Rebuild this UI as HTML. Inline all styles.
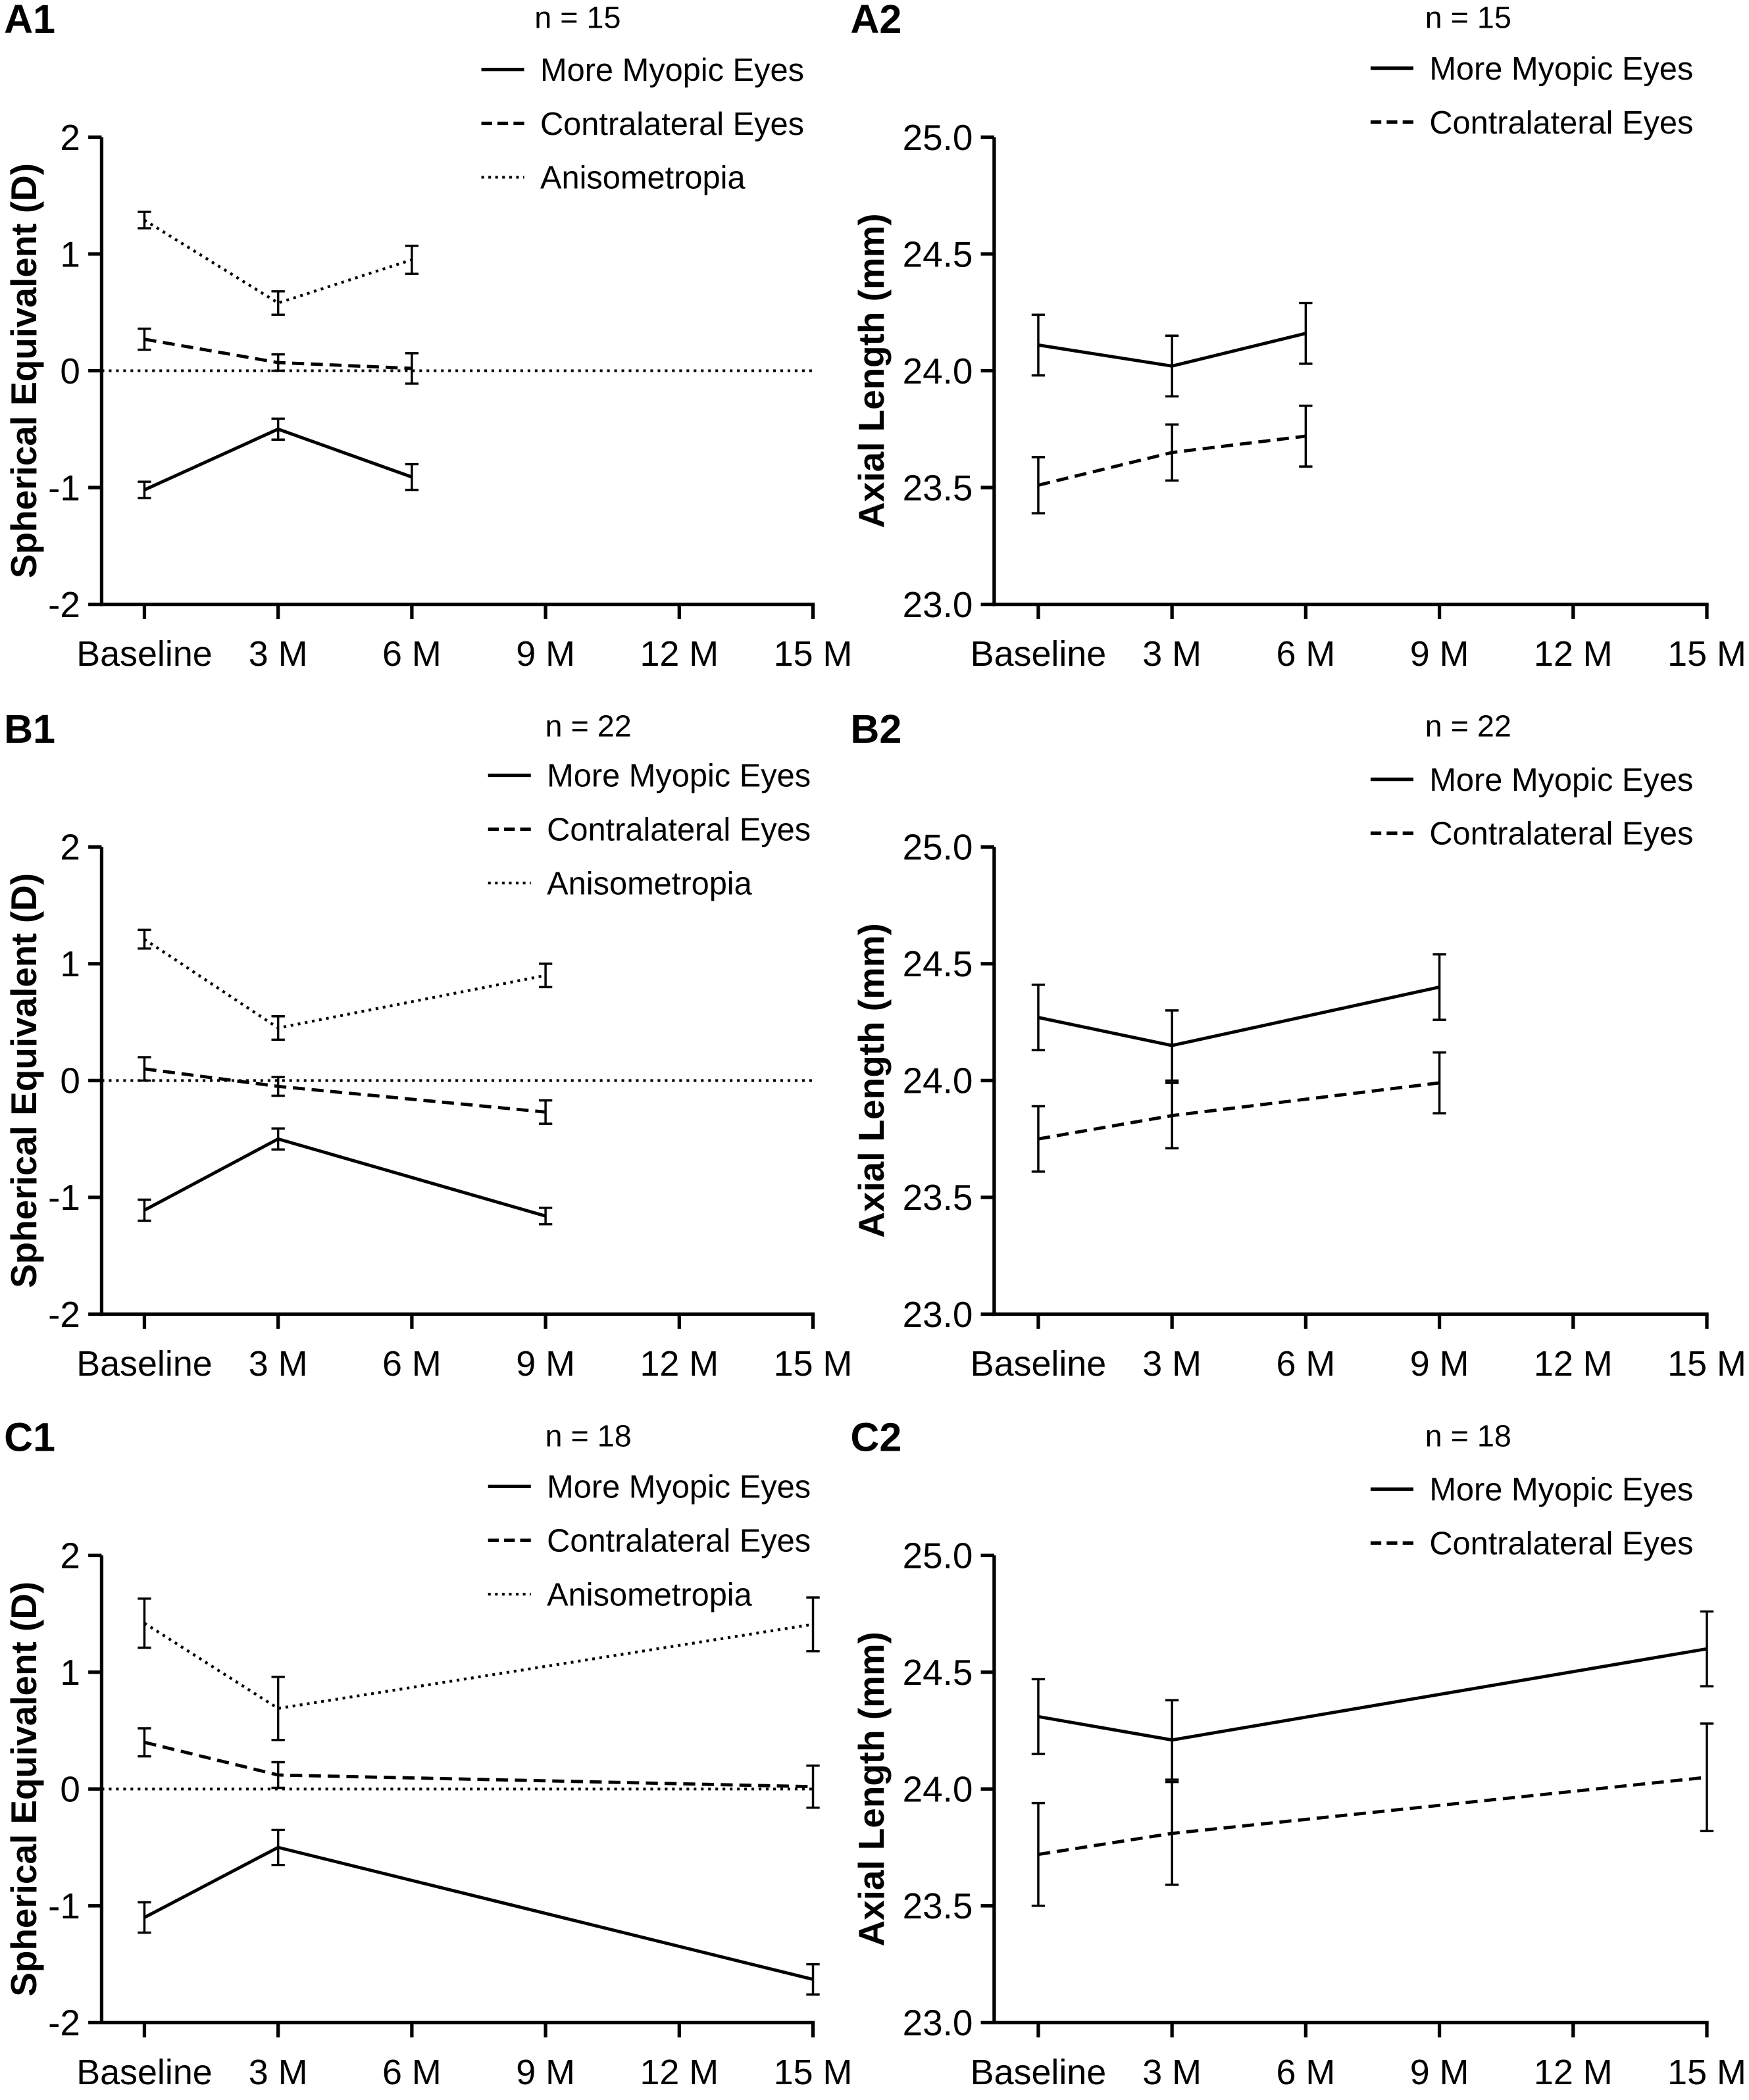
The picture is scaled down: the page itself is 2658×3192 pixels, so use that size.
<!DOCTYPE html>
<html><head><meta charset="utf-8">
<style>
html,body{margin:0;padding:0;background:#fff;}
svg{display:block;}
text{font-family:"Liberation Sans",Arial,sans-serif;fill:#000;}
</style></head>
<body>
<svg id="fig" xmlns="http://www.w3.org/2000/svg" width="2658" height="3192" viewBox="0 0 1308 1571" preserveAspectRatio="none">
<rect width="1308" height="1571" fill="#fff"/>
</svg>
<script>
// ---- data ----
const xTickLabels = ["Baseline","3 M","6 M","9 M","12 M","15 M"];
const seTicks = [2,1,0,-1,-2];
const alTicks = [25.0,24.5,24.0,23.5,23.0];

const a1Months = [0,3,6];
const a1Myopic = [-1.02,-0.50,-0.91]; const a1MyopicErr = [0.07,0.09,0.11];
const a1Contra = [0.27,0.07,0.02];    const a1ContraErr = [0.09,0.07,0.13];
const a1Aniso  = [1.29,0.58,0.95];    const a1AnisoErr  = [0.07,0.10,0.12];
const a2Myopic = [24.11,24.02,24.16]; const a2MyopicErr = [0.13,0.13,0.13];
const a2Contra = [23.51,23.65,23.72]; const a2ContraErr = [0.12,0.12,0.13];

const b1Months = [0,3,9];
const b1Myopic = [-1.11,-0.50,-1.16]; const b1MyopicErr = [0.09,0.09,0.07];
const b1Contra = [0.10,-0.05,-0.27];  const b1ContraErr = [0.10,0.08,0.10];
const b1Aniso  = [1.21,0.45,0.90];    const b1AnisoErr  = [0.08,0.10,0.10];
const b2Myopic = [24.27,24.15,24.40]; const b2MyopicErr = [0.14,0.15,0.14];
const b2Contra = [23.75,23.85,23.99]; const b2ContraErr = [0.14,0.14,0.13];

const c1Months = [0,3,15];
const c1Myopic = [-1.10,-0.50,-1.63]; const c1MyopicErr = [0.13,0.15,0.13];
const c1Contra = [0.40,0.12,0.02];    const c1ContraErr = [0.12,0.11,0.18];
const c1Aniso  = [1.42,0.69,1.41];    const c1AnisoErr  = [0.21,0.27,0.23];
const c2Myopic = [24.31,24.21,24.60]; const c2MyopicErr = [0.16,0.17,0.16];
const c2Contra = [23.72,23.81,24.05]; const c2ContraErr = [0.22,0.22,0.23];

const svg = document.getElementById('fig');
const NS = 'http://www.w3.org/2000/svg';
function mk(tag, attrs, parent){
  const e = document.createElementNS(NS, tag);
  for (const k in attrs) e.setAttribute(k, attrs[k]);
  (parent||svg).appendChild(e); return e;
}
function txt(s, attrs, parent){ const t = mk('text', attrs, parent); t.textContent = s; return t; }

const DASH = {solid:null, dashed:'9,5', dotted:'2,3.4'};

function panel(cfg){
  const g = mk('g', {});
  
  
  const x0 = cfg.axisX, bx = cfg.baseX, top = cfg.top, bot = cfg.top + 349.5;
  const xs = m => bx + m * (100/3);
  const ys = v => bot - (v - cfg.ymin) / (cfg.ymax - cfg.ymin) * (bot - top);
  const pl = txt(cfg.label, {x: cfg.labelX, y: top - 78, 'font-size': 30, 'font-weight': 'bold'}, g);
  
  
  const ya = mk('line', {x1:x0, y1:top, x2:x0, y2:bot+1.3, stroke:'#000','stroke-width':2.6}, g);
  
  
  const xa = mk('line', {x1:x0-1.3, y1:bot, x2:xs(15)+1.3, y2:bot, stroke:'#000','stroke-width':2.6}, g);
  
  
  cfg.ticks.forEach(v => {
    mk('line', {x1:x0-10, y1:ys(v), x2:x0, y2:ys(v), stroke:'#000','stroke-width':2.6}, g);
    const t = txt(cfg.fmt(v), {x:x0-16, y:ys(v)+9.5, 'font-size':27, 'text-anchor':'end'}, g);
    
    
  });
  xTickLabels.forEach((lab, i) => {
    const x = xs(i*3);
    mk('line', {x1:x, y1:bot, x2:x, y2:bot+11, stroke:'#000','stroke-width':2.6}, g);
    const t = txt(lab, {x:x, y:bot+46, 'font-size':26.5, 'text-anchor':'middle'}, g);
    
    
  });
  const cy = (top+bot)/2;
  const yt = txt(cfg.ytitle, {x:cfg.titleX, y:cy, 'font-size':27, 'font-weight':'bold', 'text-anchor':'middle', transform:`rotate(-90 ${cfg.titleX} ${cy})`}, g);
  
  
  if (cfg.zero){
    const z = mk('line', {x1:x0, y1:ys(0), x2:xs(15), y2:ys(0), stroke:'#000','stroke-width':2,'stroke-dasharray':DASH.dotted}, g);
    
    
  }
  cfg.series.forEach(s => {
    const sg = mk('g', {}, g);
    
    
    const pts = cfg.months.map((m,i) => xs(m)+','+ys(s.vals[i])).join(' ');
    const a = {points:pts, fill:'none', stroke:'#000', 'stroke-width': s.style==='dotted'?2.1:2.4};
    if (DASH[s.style]) a['stroke-dasharray'] = DASH[s.style];
    mk('polyline', a, sg);
    cfg.months.forEach((m,i) => {
      const x = xs(m), hi = ys(s.vals[i]+s.err[i]), lo = ys(s.vals[i]-s.err[i]);
      const eb = mk('path', {d:`M${x-5},${hi}H${x+5}M${x},${hi}V${lo}M${x-5},${lo}H${x+5}`, stroke:'#000','stroke-width':1.7, fill:'none'}, sg);
      
      
    });
  });
  const lg = mk('g', {}, g);
  
  
  txt(cfg.n, {x:cfg.nX, y:cfg.nY, 'font-size':23, 'text-anchor':'middle'}, lg);
  cfg.series.forEach((s,i) => {
    const y = cfg.legTop + 10 + i*40.3;
    const e = mk('g', {}, lg);
    
    
    const a = {x1:cfg.legX, y1:y, x2:cfg.legX+32, y2:y, stroke:'#000','stroke-width': s.style==='dotted'?2:2.6};
    if (DASH[s.style]) a['stroke-dasharray'] = s.style==='dashed' ? '8,4' : '2,3.2';
    mk('line', a, e);
    txt(s.label, {x:cfg.legX+44, y:y+8.5, 'font-size':24}, e);
  });
}

const SE = 'Spherical Equivalent (D)', AL = 'Axial Length (mm)';
const fSE = v => String(v), fAL = v => v.toFixed(1);
const rows = [
  {L:'A', top:102.6, n:'n = 15', nY:21, m:a1Months, my:a1Myopic, mye:a1MyopicErr, co:a1Contra, coe:a1ContraErr, an:a1Aniso, ane:a1AnisoErr,
   my2:a2Myopic, mye2:a2MyopicErr, co2:a2Contra, coe2:a2ContraErr, legX1:360, nX1:432, legTop:42, legTop2:41},
  {L:'B', top:633.6, n:'n = 22', nY:551, m:b1Months, my:b1Myopic, mye:b1MyopicErr, co:b1Contra, coe:b1ContraErr, an:b1Aniso, ane:b1AnisoErr,
   my2:b2Myopic, mye2:b2MyopicErr, co2:b2Contra, coe2:b2ContraErr, legX1:365, nX1:440, legTop:570, legTop2:573},
  {L:'C', top:1163.6, n:'n = 18', nY:1082, m:c1Months, my:c1Myopic, mye:c1MyopicErr, co:c1Contra, coe:c1ContraErr, an:c1Aniso, ane:c1AnisoErr,
   my2:c2Myopic, mye2:c2MyopicErr, co2:c2Contra, coe2:c2ContraErr, legX1:365, nX1:440, legTop:1102, legTop2:1104}
];
rows.forEach(r => {
  panel({name:'panel-'+r.L.toLowerCase()+'1-spherical-equivalent', label:r.L+'1', labelX:3, top:r.top, axisX:76, baseX:108,
    ymin:-2, ymax:2, ticks:seTicks, fmt:fSE, ytitle:SE, titleX:27, zero:true, months:r.m,
    n:r.n, nX:r.nX1, nY:r.nY, legX:r.legX1, legTop:r.legTop,
    series:[
      {name:'series-more-myopic', label:'More Myopic Eyes', style:'solid', vals:r.my, err:r.mye},
      {name:'series-contralateral', label:'Contralateral Eyes', style:'dashed', vals:r.co, err:r.coe},
      {name:'series-anisometropia', label:'Anisometropia', style:'dotted', vals:r.an, err:r.ane}
    ]});
  panel({name:'panel-'+r.L.toLowerCase()+'2-axial-length', label:r.L+'2', labelX:636, top:r.top, axisX:743.5, baseX:776.5,
    ymin:23, ymax:25, ticks:alTicks, fmt:fAL, ytitle:AL, titleX:661, zero:false, months:r.m,
    n:r.n, nX:1098, nY:r.nY, legX:1025, legTop:r.legTop2,
    series:[
      {name:'series-more-myopic', label:'More Myopic Eyes', style:'solid', vals:r.my2, err:r.mye2},
      {name:'series-contralateral', label:'Contralateral Eyes', style:'dashed', vals:r.co2, err:r.coe2}
    ]});
});
</script>
</body></html>
